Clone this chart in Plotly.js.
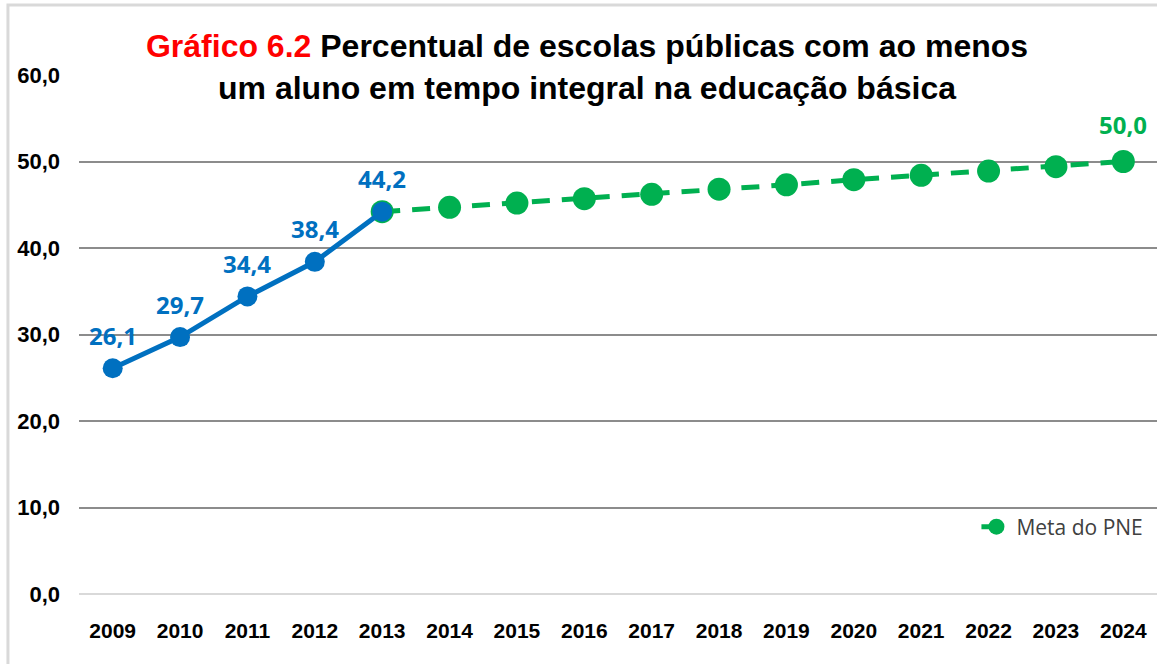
<!DOCTYPE html>
<html>
<head>
<meta charset="utf-8">
<script src="https://cdn.plot.ly/plotly-3.0.1.min.js"></script>
<style>
  html, body { margin: 0; padding: 0; background: #ffffff; }
  #chart { width: 1157px; height: 664px; }
</style>
</head>
<body>
<div id="chart"></div>
<script>
// ---- data ----
const years = ['2009','2010','2011','2012','2013','2014','2015','2016','2017','2018','2019','2020','2021','2022','2023','2024'];
const realYears = ['2009','2010','2011','2012','2013'];
const realValues = [26.1, 29.7, 34.4, 38.4, 44.2];
const metaYears = ['2013','2014','2015','2016','2017','2018','2019','2020','2021','2022','2023','2024'];
const metaValues = [44.2, 44.7, 45.2, 45.7, 46.2, 46.8, 47.3, 47.9, 48.4, 48.9, 49.4, 50.0];
const metaName = 'Meta do PNE';
const titleRed = 'Gráfico 6.2';
const titleLine1 = ' Percentual de escolas públicas com ao menos';
const titleLine2 = 'um aluno em tempo integral na educação básica';

const BLUE = '#0070C0';
const GREEN = '#00B050';
const fmt = v => v.toFixed(1).replace('.', ',');

const traces = [
  {
    x: metaYears, y: metaValues, name: metaName, type: 'scatter', mode: 'lines+markers',
    line: { color: GREEN, width: 5, dash: '18px,12px' },
    marker: { color: GREEN, size: 23 },
    showlegend: true, hoverinfo: 'x+y'
  },
  {
    x: realYears, y: realValues, name: 'Realizado', type: 'scatter', mode: 'lines+markers',
    line: { color: BLUE, width: 5 },
    marker: { color: BLUE, size: 20 },
    showlegend: false, hoverinfo: 'x+y'
  }
];

// category axis: annotation x given as category index
const annotations = realYears.map((yr, i) => ({
  x: years.indexOf(yr), y: realValues[i], xref: 'x', yref: 'y', text: fmt(realValues[i]),
  showarrow: false, yshift: 33,
  font: { family: 'Open Sans, sans-serif', size: 24, color: BLUE, weight: 'bold' }
}));
const lastIdx = metaValues.length - 1;
annotations.push({
  x: years.indexOf(metaYears[lastIdx]), y: metaValues[lastIdx], xref: 'x', yref: 'y', text: fmt(metaValues[lastIdx]),
  showarrow: false, yshift: 37,
  font: { family: 'Open Sans, sans-serif', size: 24, color: GREEN, weight: 'bold' }
});

const layout = {
  width: 1157, height: 664,
  paper_bgcolor: '#ffffff', plot_bgcolor: '#ffffff',
  margin: { l: 79, r: 0, t: 75, b: 70, pad: 0 },
  separators: ', ',
  title: {
    text: '<span style="color:#FF0000">' + titleRed + '</span>' + titleLine1 + '<br>' + titleLine2,
    x: 587 / 1157, xanchor: 'center', xref: 'container',
    y: 1 - 57 / 664, yanchor: 'middle', yref: 'container',
    font: { family: 'Liberation Sans, Arial, sans-serif', size: 32, color: '#000000', weight: 'bold' }
  },
  xaxis: {
    type: 'category', categoryarray: years, categoryorder: 'array',
    range: [-0.5, years.length - 0.5],
    showgrid: false, showline: false, zeroline: false, ticks: '',
    ticklabelstandoff: 22,
    tickfont: { family: 'Liberation Sans, Arial, sans-serif', size: 21, color: '#000000', weight: 'bold' }
  },
  yaxis: {
    range: [0, 60], dtick: 10, tick0: 0, tickformat: '.1f',
    showgrid: true, gridcolor: '#8c8c8c', gridwidth: 2,
    zeroline: true, zerolinecolor: '#d9d9d9', zerolinewidth: 2,
    showline: false, ticks: '', ticklabelstandoff: 18,
    tickfont: { family: 'Liberation Sans, Arial, sans-serif', size: 22, color: '#000000', weight: 'bold' }
  },
  legend: {
    x: 0.8325, xanchor: 'left', y: 0.129, yanchor: 'middle',
    bgcolor: 'rgba(0,0,0,0)', borderwidth: 0,
    font: { family: 'Open Sans, sans-serif', size: 21, color: '#404040' }
  },
  annotations: annotations,
  shapes: [
    { type: 'rect', xref: 'paper', yref: 'paper', x0: -0.0659, x1: 1.2, y0: -0.3, y1: 1.135,
      line: { color: '#d9d9d9', width: 3 }, fillcolor: 'rgba(0,0,0,0)', layer: 'below' }
  ]
};

Plotly.newPlot('chart', traces, layout, { displayModeBar: false, staticPlot: true });
</script>
</body>
</html>
